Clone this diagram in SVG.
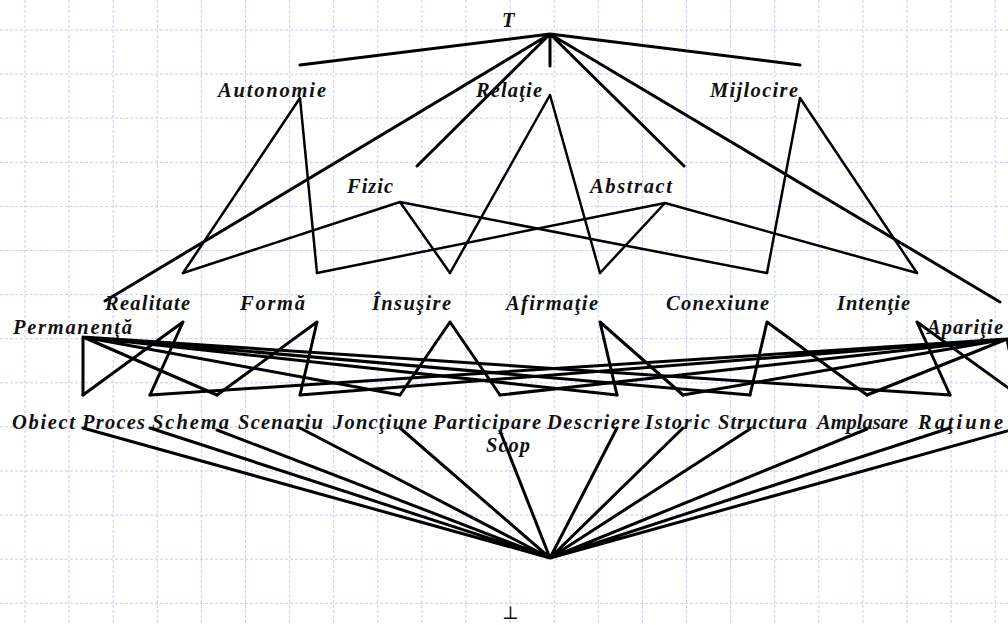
<svg xmlns="http://www.w3.org/2000/svg" width="1008" height="625" viewBox="0 0 1008 625">
<style>
.grid{stroke:#c2cdf5;stroke-width:1;stroke-dasharray:3 2;fill:none}
.lbl{font-family:"Liberation Serif","Times New Roman",serif;font-weight:bold;font-style:italic;font-size:20.5px;fill:#111}
.bot{font-family:"DejaVu Serif","Liberation Serif",serif;font-size:18px;fill:#111}
.e3{stroke:#000;stroke-width:3;stroke-linecap:round;fill:none}
.e2{stroke:#000;stroke-width:2.5;stroke-linecap:round;fill:none}
</style>
<rect width="1008" height="625" fill="#fff"/>
<g id="grid" class="grid">
<path d="M25 0V625M69.1 0V625M113.2 0V625M157.3 0V625M201.4 0V625M245.5 0V625M289.6 0V625M333.7 0V625M377.8 0V625M421.9 0V625M466 0V625M510.1 0V625M554.2 0V625M598.3 0V625M642.4 0V625M686.5 0V625M730.6 0V625M774.7 0V625M818.8 0V625M862.9 0V625M907 0V625M951.1 0V625M995.2 0V625"/>
<path d="M0 30H1008M0 74.1H1008M0 118.2H1008M0 162.3H1008M0 206.4H1008M0 250.5H1008M0 294.6H1008M0 338.7H1008M0 382.8H1008M0 426.9H1008M0 471H1008M0 515.1H1008M0 559.2H1008M0 603.3H1008"/>
</g>
<g id="connectors">
<g class="e3">
<path d="M550 34L300 65M550 34L800 65M550 34L550 66M550 34L417 166M550 34L684 166M550 34L105 301M550 34L1000 302"/>
</g>
<g class="e2">
<path d="M300 98L183 273M300 98L317 273M550 95L450 273M550 95L600 273M800 98L767 273M800 98L917 273"/>
<path d="M400 202L183 273M400 202L450 273M400 202L767 273M665 203L317 273M665 203L600 273M665 203L917 273"/>
</g>
<g class="e3">
<path d="M183 322L83 395M183 322L150 395M317 322L217 395M317 322L300 395M450 322L400 395M450 322L500 395M600 322L617 395M600 322L683 395M767 322L750 395M767 322L867 395M917 322L950 395M917 322L1018 395"/>
<path d="M83 337L83 395M83 337L217 395M83 337L400 395M83 337L617 395M83 337L750 395M83 337L950 395"/>
<path d="M1007 339L150 395M1007 339L300 395M1007 339L500 395M1007 339L683 395M1007 339L867 395M1007 339L1018 395"/>
<path d="M83 428L550 558M150 428L550 558M217 430L550 558M300 428L550 558M400 428L550 558M500 431L550 558M617 428L550 558M683 428L550 558M750 429L550 558M867 429L550 558M950 428L550 558M1018 428L550 558"/>
</g>
</g>
<g id="n-T"><text class="lbl" x="502" y="27">T</text></g>
<g id="n-autonomie"><text class="lbl" x="218" y="97" textLength="108" lengthAdjust="spacing">Autonomie</text></g>
<g id="n-relatie"><text class="lbl" x="476" y="97" textLength="66" lengthAdjust="spacing">Relaţie</text></g>
<g id="n-mijlocire"><text class="lbl" x="710" y="97" textLength="88" lengthAdjust="spacing">Mijlocire</text></g>
<g id="n-fizic"><text class="lbl" x="347" y="193" textLength="46" lengthAdjust="spacing">Fizic</text></g>
<g id="n-abstract"><text class="lbl" x="590" y="193" textLength="82" lengthAdjust="spacing">Abstract</text></g>
<g id="n-realitate"><text class="lbl" x="105" y="310" textLength="85" lengthAdjust="spacing">Realitate</text></g>
<g id="n-forma"><text class="lbl" x="240" y="310" textLength="65" lengthAdjust="spacing">Formă</text></g>
<g id="n-insusire"><text class="lbl" x="372" y="310" textLength="79" lengthAdjust="spacing">Însuşire</text></g>
<g id="n-afirmatie"><text class="lbl" x="506" y="310" textLength="92" lengthAdjust="spacing">Afirmaţie</text></g>
<g id="n-conexiune"><text class="lbl" x="666" y="310" textLength="103" lengthAdjust="spacing">Conexiune</text></g>
<g id="n-intentie"><text class="lbl" x="837" y="310" textLength="73" lengthAdjust="spacing">Intenţie</text></g>
<g id="n-permanenta"><text class="lbl" x="13" y="334" textLength="119" lengthAdjust="spacing">Permanenţă</text></g>
<g id="n-aparitie"><text class="lbl" x="927" y="334" textLength="76" lengthAdjust="spacing">Apariţie</text></g>
<g id="n-obiect"><text class="lbl" x="12" y="429" textLength="63" lengthAdjust="spacing">Obiect</text></g>
<g id="n-proces"><text class="lbl" x="82" y="429" textLength="63" lengthAdjust="spacing">Proces</text></g>
<g id="n-schema"><text class="lbl" x="152" y="429" textLength="77" lengthAdjust="spacing">Schema</text></g>
<g id="n-scenariu"><text class="lbl" x="238" y="429" textLength="85" lengthAdjust="spacing">Scenariu</text></g>
<g id="n-jonctiune"><text class="lbl" x="333" y="429" textLength="94" lengthAdjust="spacing">Joncţiune</text></g>
<g id="n-participare"><text class="lbl" x="433" y="429" textLength="108" lengthAdjust="spacing">Participare</text></g>
<g id="n-descriere"><text class="lbl" x="547" y="429" textLength="93" lengthAdjust="spacing">Descriere</text></g>
<g id="n-istoric"><text class="lbl" x="645" y="429" textLength="65" lengthAdjust="spacing">Istoric</text></g>
<g id="n-structura"><text class="lbl" x="718" y="429" textLength="89" lengthAdjust="spacing">Structura</text></g>
<g id="n-amplasare"><text class="lbl" x="817" y="429" textLength="91" lengthAdjust="spacing">Amplasare</text></g>
<g id="n-ratiune"><text class="lbl" x="918" y="429" textLength="85" lengthAdjust="spacing">Raţiune</text></g>
<g id="n-scop"><text class="lbl" x="486" y="452" textLength="44" lengthAdjust="spacing">Scop</text></g>
<g id="n-bottom"><text class="bot" x="502" y="619">⊥</text></g>
</svg>
